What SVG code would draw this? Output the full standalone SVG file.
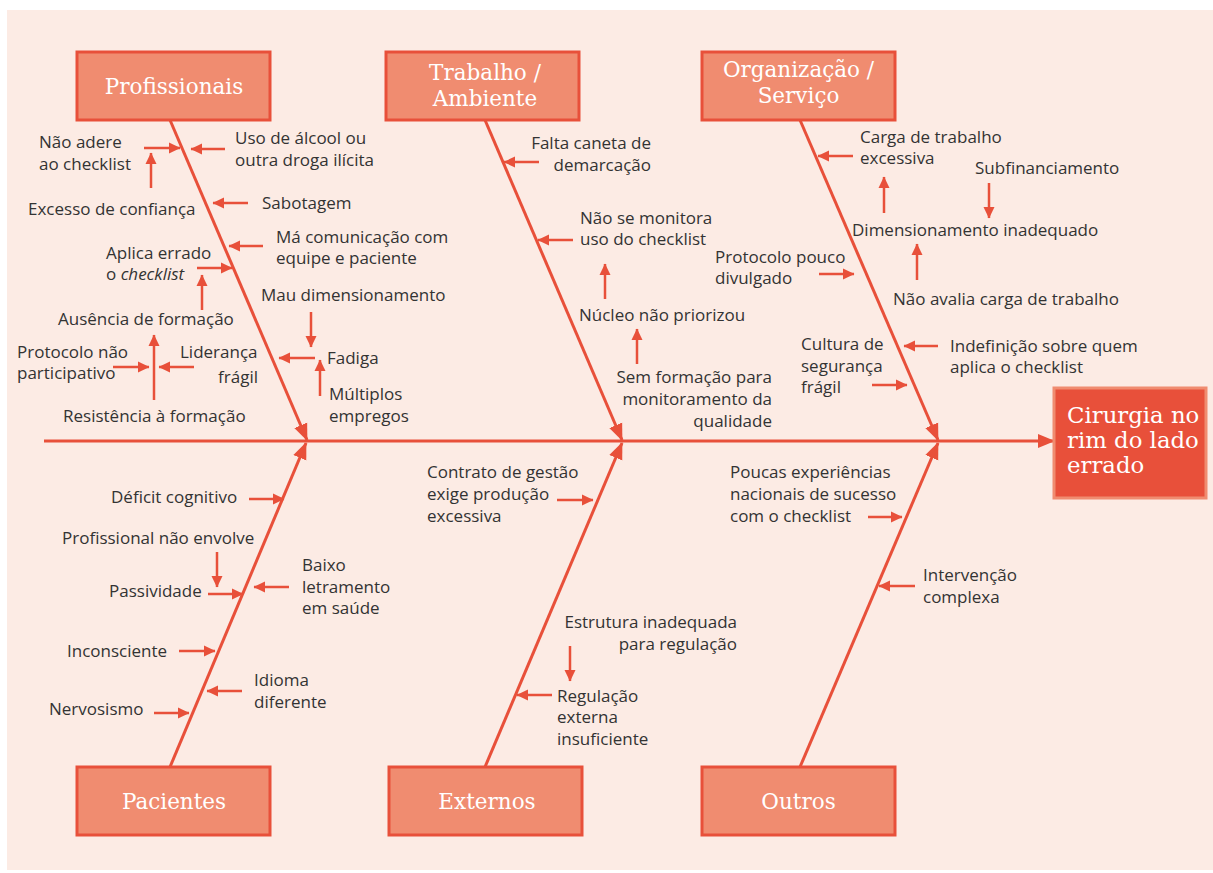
<svg xmlns="http://www.w3.org/2000/svg" width="1213" height="873" viewBox="0 0 1213 873">
<defs>
<style>
.t{font-family:"Open Sans","Noto Sans",sans-serif;font-size:17px;fill:#333333}
.h{font-family:"DejaVu Serif","Liberation Serif",serif;font-size:21.5px;fill:#ffffff;text-anchor:middle}
.hb{font-family:"DejaVu Serif","Liberation Serif",serif;font-size:22.8px;fill:#ffffff}
.box{fill:#F08C70;stroke:#E8503A;stroke-width:3}
.a{stroke:#E8503A;stroke-width:2.5;fill:none;marker-end:url(#sa)}
.d{stroke:#E8503A;stroke-width:3;fill:none;marker-end:url(#ba)}
.e{text-anchor:end}
</style>
<marker id="sa" markerUnits="userSpaceOnUse" markerWidth="12" markerHeight="12" refX="11" refY="6" orient="auto" viewBox="0 0 12 12">
<path d="M0,0.5 L11.5,6 L0,11.5 z" fill="#E8503A"/>
</marker>
<marker id="ba" markerUnits="userSpaceOnUse" markerWidth="18" markerHeight="16" refX="16" refY="8" orient="auto" viewBox="0 0 18 16">
<path d="M0,1 L17,8 L0,15 z" fill="#E8503A"/>
</marker>
</defs>
<rect x="0" y="0" width="1213" height="873" fill="#ffffff"/>
<rect x="7" y="10" width="1206" height="860" fill="#FCEBE4"/>

<g id="connectors">
<line class="d" x1="44" y1="441" x2="1054" y2="441"/>
<line class="d" x1="170" y1="120" x2="307" y2="440"/>
<line class="d" x1="485" y1="120" x2="622" y2="440"/>
<line class="d" x1="800" y1="120" x2="938" y2="440"/>
<line class="d" x1="170" y1="767" x2="306" y2="443"/>
<line class="d" x1="485" y1="767" x2="622" y2="443"/>
<line class="d" x1="800" y1="767" x2="938" y2="443"/>
<!-- Profissionais -->
<line class="a" x1="144" y1="148" x2="180" y2="148"/>
<line class="a" x1="151" y1="188" x2="151" y2="153"/>
<line class="a" x1="225" y1="149" x2="191" y2="149"/>
<line class="a" x1="248" y1="203" x2="213" y2="203"/>
<line class="a" x1="263" y1="246" x2="229" y2="246"/>
<line class="a" x1="197" y1="268" x2="232" y2="268"/>
<line class="a" x1="202" y1="310" x2="202" y2="275"/>
<line class="a" x1="311" y1="312" x2="311" y2="347"/>
<line class="a" x1="315" y1="358" x2="279" y2="358"/>
<line class="a" x1="320" y1="396" x2="320" y2="360"/>
<line class="a" x1="113" y1="367" x2="149" y2="367"/>
<line class="a" x1="154" y1="400" x2="154" y2="335"/>
<line class="a" x1="194" y1="367" x2="159" y2="367"/>
<!-- Trabalho -->
<line class="a" x1="539" y1="162" x2="504" y2="162"/>
<line class="a" x1="573" y1="240" x2="538" y2="240"/>
<line class="a" x1="605" y1="299" x2="605" y2="264"/>
<line class="a" x1="637" y1="364" x2="637" y2="329"/>
<!-- Organizacao -->
<line class="a" x1="853" y1="156" x2="818" y2="156"/>
<line class="a" x1="989" y1="183" x2="989" y2="218"/>
<line class="a" x1="884" y1="213" x2="884" y2="177"/>
<line class="a" x1="917" y1="280" x2="917" y2="244"/>
<line class="a" x1="819" y1="274" x2="854" y2="274"/>
<line class="a" x1="872" y1="385" x2="907" y2="385"/>
<line class="a" x1="938" y1="346" x2="904" y2="346"/>
<!-- Pacientes -->
<line class="a" x1="249" y1="499" x2="284" y2="499"/>
<line class="a" x1="217" y1="552" x2="217" y2="587"/>
<line class="a" x1="208" y1="594" x2="243" y2="594"/>
<line class="a" x1="289" y1="587" x2="254" y2="587"/>
<line class="a" x1="179" y1="651" x2="215" y2="651"/>
<line class="a" x1="242" y1="691" x2="207" y2="691"/>
<line class="a" x1="154" y1="713" x2="189" y2="713"/>
<!-- Externos -->
<line class="a" x1="557" y1="500" x2="593" y2="500"/>
<line class="a" x1="570" y1="646" x2="570" y2="681"/>
<line class="a" x1="552" y1="695" x2="517" y2="695"/>
<!-- Outros -->
<line class="a" x1="868" y1="517" x2="902" y2="517"/>
<line class="a" x1="915" y1="586" x2="879" y2="586"/>
</g>

<g id="node-profissionais">
<rect class="box" x="77" y="52" width="193" height="68"/>
<text class="h" x="174" y="94">Profissionais</text>
</g>
<g id="node-trabalho">
<rect class="box" x="386" y="52" width="193" height="68"/>
<text class="h" x="485" y="80">Trabalho /</text>
<text class="h" x="485" y="106">Ambiente</text>
</g>
<g id="node-organizacao">
<rect class="box" x="702" y="52" width="193" height="68"/>
<text class="h" x="798.5" y="77">Organização /</text>
<text class="h" x="798.5" y="103">Serviço</text>
</g>
<g id="node-pacientes">
<rect class="box" x="77" y="767" width="193" height="68"/>
<text class="h" x="174" y="809">Pacientes</text>
</g>
<g id="node-externos">
<rect class="box" x="389" y="767" width="193" height="68"/>
<text class="h" x="487" y="809">Externos</text>
</g>
<g id="node-outros">
<rect class="box" x="702" y="767" width="193" height="68"/>
<text class="h" x="798.5" y="809">Outros</text>
</g>
<g id="node-cirurgia">
<rect x="1054" y="388" width="152" height="110" fill="#E8503A" stroke="#F08C70" stroke-width="3"/>
<text class="hb" x="1067" y="423">Cirurgia no</text>
<text class="hb" x="1067" y="448">rim do lado</text>
<text class="hb" x="1067" y="473">errado</text>
</g>

<g id="causes-profissionais">
<text class="t" x="39" y="148">Não adere</text>
<text class="t" x="39" y="170">ao checklist</text>
<text class="t" x="235" y="144">Uso de álcool ou</text>
<text class="t" x="235" y="166">outra droga ilícita</text>
<text class="t" x="28" y="215">Excesso de confiança</text>
<text class="t" x="262" y="209">Sabotagem</text>
<text class="t" x="276" y="243">Má comunicação com</text>
<text class="t" x="276" y="264">equipe e paciente</text>
<text class="t" x="106" y="259">Aplica errado</text>
<text class="t" x="106" y="280">o <tspan font-style="italic">checklist</tspan></text>
<text class="t" x="58" y="325">Ausência de formação</text>
<text class="t" x="261" y="301">Mau dimensionamento</text>
<text class="t" x="327" y="364">Fadiga</text>
<text class="t" x="329" y="400">Múltiplos</text>
<text class="t" x="329" y="422">empregos</text>
<text class="t" x="17" y="358">Protocolo não</text>
<text class="t" x="17" y="379">participativo</text>
<text class="t" x="180" y="358">Liderança</text>
<text class="t e" x="258" y="383">frágil</text>
<text class="t" x="63" y="422">Resistência à formação</text>
</g>

<g id="causes-trabalho">
<text class="t e" x="651" y="149">Falta caneta de</text>
<text class="t e" x="651" y="171">demarcação</text>
<text class="t" x="580" y="224">Não se monitora</text>
<text class="t" x="580" y="245">uso do checklist</text>
<text class="t" x="579" y="321">Núcleo não priorizou</text>
<text class="t e" x="772" y="383">Sem formação para</text>
<text class="t e" x="772" y="405">monitoramento da</text>
<text class="t e" x="772" y="427">qualidade</text>
</g>

<g id="causes-organizacao">
<text class="t" x="860" y="143">Carga de trabalho</text>
<text class="t" x="860" y="164">excessiva</text>
<text class="t" x="975" y="174">Subfinanciamento</text>
<text class="t" x="852" y="236">Dimensionamento inadequado</text>
<text class="t" x="893" y="305">Não avalia carga de trabalho</text>
<text class="t" x="715" y="263">Protocolo pouco</text>
<text class="t" x="715" y="284">divulgado</text>
<text class="t" x="801" y="350">Cultura de</text>
<text class="t" x="801" y="372">segurança</text>
<text class="t" x="801" y="393">frágil</text>
<text class="t" x="950" y="352">Indefinição sobre quem</text>
<text class="t" x="950" y="373">aplica o checklist</text>
</g>

<g id="causes-pacientes">
<text class="t" x="111" y="503">Déficit cognitivo</text>
<text class="t" x="62" y="544">Profissional não envolve</text>
<text class="t" x="109" y="597">Passividade</text>
<text class="t" x="302" y="571">Baixo</text>
<text class="t" x="302" y="593">letramento</text>
<text class="t" x="302" y="614">em saúde</text>
<text class="t" x="67" y="657">Inconsciente</text>
<text class="t" x="254" y="686">Idioma</text>
<text class="t" x="254" y="708">diferente</text>
<text class="t" x="49" y="715">Nervosismo</text>
</g>

<g id="causes-externos">
<text class="t" x="427" y="478">Contrato de gestão</text>
<text class="t" x="427" y="500">exige produção</text>
<text class="t" x="427" y="522">excessiva</text>
<text class="t e" x="737" y="628">Estrutura inadequada</text>
<text class="t e" x="737" y="650">para regulação</text>
<text class="t" x="557" y="702">Regulação</text>
<text class="t" x="557" y="723">externa</text>
<text class="t" x="557" y="745">insuficiente</text>
</g>

<g id="causes-outros">
<text class="t" x="730" y="478">Poucas experiências</text>
<text class="t" x="730" y="500">nacionais de sucesso</text>
<text class="t" x="730" y="522">com o checklist</text>
<text class="t" x="923" y="581">Intervenção</text>
<text class="t" x="923" y="603">complexa</text>
</g>
</svg>
